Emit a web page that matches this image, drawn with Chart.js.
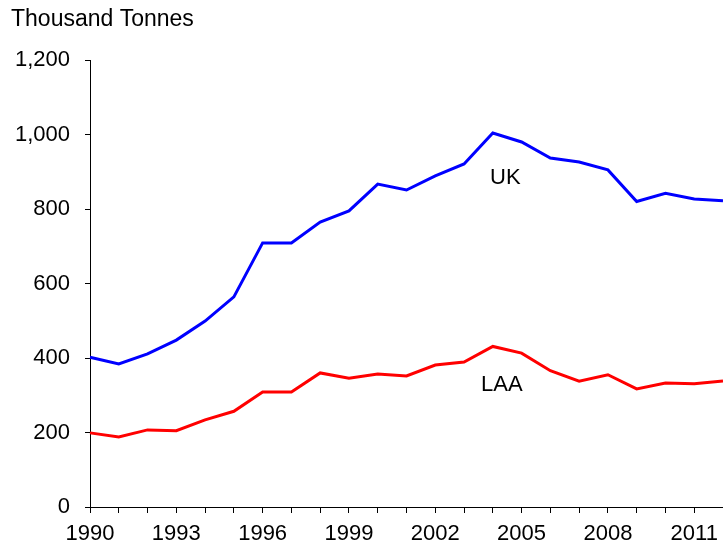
<!DOCTYPE html>
<html>
<head>
<meta charset="utf-8">
<script src="https://cdn.jsdelivr.net/npm/chart.js@4.4.0/dist/chart.umd.min.js"></script>
<style>
  html, body { margin: 0; padding: 0; background: #fff; }
  #wrap { width: 723px; height: 544px; position: relative; }
</style>
</head>
<body>
<div id="wrap"><canvas id="chart"></canvas></div>
<script>
// Dados
const years = ['1990', '1991', '1992', '1993', '1994', '1995', '1996', '1997', '1998', '1999', '2000',
  '2001', '2002', '2003', '2004', '2005', '2006', '2007', '2008', '2009', '2010', '2011', '2012'];
const ukValues = [402, 384, 411, 448, 499, 564, 709, 709, 765, 795, 867,
  851, 889, 921, 1004, 980, 937, 926, 905, 820, 842, 827, 822];
const laaValues = [199, 188, 207, 205, 234, 257, 309, 309, 360, 346, 357,
  352, 381, 389, 431, 413, 366, 338, 355, 317, 333, 331, 338];
const yTicks = [0, 200, 400, 600, 800, 1000, 1200];

const FONT = 'Liberation Sans, Arial, Helvetica, sans-serif';

// Textos soltos: titulo do eixo e rotulos das series
const textPlugin = {
  id: 'texts',
  afterDraw(chart) {
    const ctx = chart.ctx;
    ctx.save();
    ctx.fillStyle = '#000';
    ctx.textBaseline = 'middle';
    ctx.textAlign = 'left';
    ctx.font = '23px ' + FONT;
    ctx.fillText('Thousand Tonnes', 11, 20);
    ctx.font = '22px ' + FONT;
    ctx.fillText('UK', 490, 178);
    ctx.fillText('LAA', 481, 385);
    ctx.restore();
  }
};

const ctx = document.getElementById('chart').getContext('2d');
new Chart(ctx, {
  type: 'line',
  data: {
    labels: years,
    datasets: [
      { label: 'UK', data: ukValues, borderColor: '#0000ff', borderWidth: 3, pointRadius: 0, tension: 0 },
      { label: 'LAA', data: laaValues, borderColor: '#ff0000', borderWidth: 3, pointRadius: 0, tension: 0 }
    ]
  },
  options: {
    responsive: true,
    maintainAspectRatio: false,
    animation: false,
    layout: { padding: { top: 60, right: 0, left: 0, bottom: 0 } },
    plugins: {
      legend: { display: false },
      tooltip: { enabled: false }
    },
    scales: {
      x: {
        offset: false,
        grid: { display: true, drawOnChartArea: false, tickLength: 6, color: '#000' },
        border: { color: '#000', width: 1 },
        ticks: {
          autoSkip: false,
          maxRotation: 0,
          padding: 8,
          color: '#000',
          font: { family: FONT, size: 22 },
          callback: (v, i) => (i % 3 === 0 ? years[i] : '')
        },
        afterFit(scale) {
          scale.height = 37;
          scale.paddingRight = 0;
        }
      },
      y: {
        min: 0,
        max: 1200,
        afterBuildTicks(scale) { scale.ticks = yTicks.map(v => ({ value: v })); },
        grid: { display: true, drawOnChartArea: false, tickLength: 5, color: '#000' },
        border: { color: '#000', width: 1 },
        ticks: {
          padding: 15,
          color: '#000',
          font: { family: FONT, size: 22 },
          callback: v => v.toLocaleString('en-US')
        },
        afterFit(scale) {
          scale.width = 90;
          scale.paddingTop = 0;
        }
      }
    }
  },
  plugins: [textPlugin]
});
</script>
</body>
</html>
